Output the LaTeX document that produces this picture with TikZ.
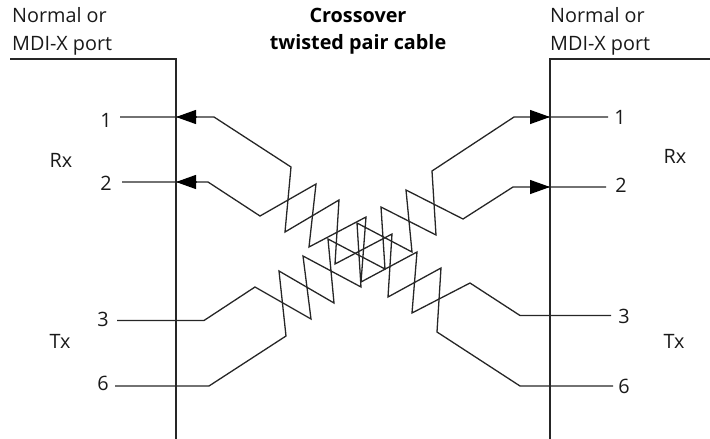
\documentclass[tikz,border=0pt]{standalone}
\usepackage{fontspec}
\setmainfont{Open Sans}
\usetikzlibrary{arrows.meta}
\tikzset{
  wire/.style={draw=black!85,line width=1.3pt,line join=miter},
  port/.style={draw=black!85,line width=1.3pt},
  head/.style={wire,-{Triangle[length=20pt,width=14pt,black]}},
  txt/.style={inner sep=0pt,font=\fontsize{19.8}{22}\selectfont,text=black!90},
  hdr/.style={txt,anchor=base west},
  ttl/.style={txt,anchor=base,font=\fontsize{19.8}{22}\selectfont\bfseries,text=black},
}
\begin{document}
\begin{tikzpicture}[x=1pt,y=-1pt]
\useasboundingbox (0,0) rectangle (710,439);
% text
\node[hdr] (hl1) at (12,23) {Normal or};
\node[hdr] (hl2) at (12,50) {MDI-X port};
\node[hdr] (hr1) at (550,23) {Normal or};
\node[hdr] (hr2) at (550,50) {MDI-X port};
\node[ttl] (t1) at (358,23) {Crossover};
\node[ttl] (t2) at (358,49.5) {twisted pair cable};
\node[txt] (la) at (106,120) {1};
\node[txt] (lb) at (106,183) {2};
\node[txt] (lc) at (103,319.5) {3};
\node[txt] (ld) at (103,383) {6};
\node[txt] (ra) at (620,117) {1};
\node[txt] (rb) at (621,185) {2};
\node[txt] (rc) at (624,316) {3};
\node[txt] (rd) at (624,386) {6};
\node[txt] (rxl) at (61,160) {Rx};
\node[txt] (txl) at (60,341) {Tx};
\node[txt] (rxr) at (675,156) {Rx};
\node[txt] (txr) at (674,341) {Tx};
% port outlines
\coordinate (pl0) at (10,59); \coordinate (pl1) at (176,59); \coordinate (pl2) at (176,439);
\coordinate (pr0) at (710,59); \coordinate (pr1) at (550,59); \coordinate (pr2) at (550,439);
\draw[port] (pl0) -- (pl1) -- (pl2);
\draw[port] (pr0) -- (pr1) -- (pr2);
% wire ends
\coordinate (ea) at (120,117); \coordinate (eb) at (122,182);
\coordinate (ec) at (117,320.5); \coordinate (ed) at (115,386);
\coordinate (fa) at (608,117); \coordinate (fb) at (606,187);
\coordinate (fc) at (611,315.5); \coordinate (fd) at (613,386);
% arrow seats
\coordinate (al1) at (176,117); \coordinate (al2) at (176,182);
\coordinate (ar1) at (550,117); \coordinate (ar2) at (550,187);
\coordinate (bl1) at (214,117); \coordinate (bl2) at (208,182);
\coordinate (br1) at (514,117); \coordinate (br2) at (513,187);
% wires
\draw[wire] (ea) -- (bl1) -- (291,167) -- (285,232) -- (339,200) -- (335,264) -- (392,234) -- (388,297) -- (441,268) -- (437,332) -- (520,386) -- (fd);
\draw[wire] (eb) -- (bl2) -- (260,216) -- (316,184) -- (309,247) -- (366,217) -- (361,282) -- (417,252) -- (412,313) -- (470,283) -- (520,315.5) -- (fc);
\draw[wire] (fa) -- (br1) -- (432,171) -- (436,235) -- (381,207) -- (385,269) -- (328,239) -- (334,303) -- (279,271) -- (286,336) -- (209,386) -- (ed);
\draw[wire] (fb) -- (br2) -- (463,219) -- (406,190) -- (412,252) -- (357,223) -- (361,287) -- (303,256) -- (311,319) -- (255,287) -- (204,320.5) -- (ec);
% arrowheads
\draw[head] (196,117) -- (al1);
\draw[head] (196,182) -- (al2);
\draw[head] (530,117) -- (ar1);
\draw[head] (530,187) -- (ar2);
\end{tikzpicture}
\end{document}
